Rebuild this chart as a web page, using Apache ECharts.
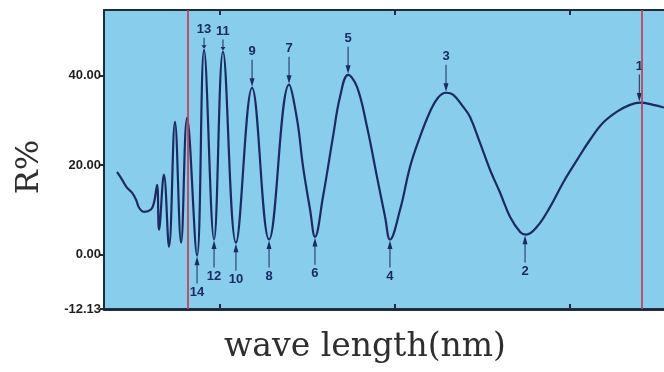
<!DOCTYPE html>
<html>
<head>
<meta charset="utf-8">
<script src="https://cdn.jsdelivr.net/npm/echarts@6/dist/echarts.min.js"></script>
<style>
html,body{margin:0;padding:0;background:#fff;}
#chart{width:664px;height:372px;}
</style>
</head>
<body>
<div id="chart"></div>
<script>
// wavelength (nm) samples
const wavelength = [441.4,444.3,447.1,450.0,452.3,454.0,456.8,460.8,462.5,464.3,465.4,468.2,471.1,474.5,478.0,481.4,487.1,491.1,496.8,501.9,509.3,518.5,528.2,539.6,544.2,547.6,551.6,554.4,559.0,564.7,568.7,573.3,578.4,584.1,589.8,594.4,597.2,603.0,608.7,614.4,620.1,624.6,629.2,633.2,638.9,642.9,648.6,654.3,660.0,665.7,671.5,674.9,681.2,688.6,696.0,704.0,711.4,718.8,726.8,734.2,740.0,747.4,753.6];
// reflectance R% samples
const reflectance = [18.5,16.8,15.0,13.9,12.3,10.5,9.6,10.1,11.6,15.6,5.6,17.9,1.8,29.7,2.7,30.6,-0.2,45.8,3.4,45.4,2.7,37.3,3.4,38.0,30.2,19.7,10.1,4.0,13.0,26.4,35.3,40.2,37.5,28.6,17.4,8.5,3.4,10.1,19.7,26.4,32.0,35.1,36.2,35.8,33.1,30.8,25.0,19.0,13.9,8.5,5.1,4.5,6.3,10.7,16.1,21.2,25.7,29.5,32.0,33.5,34.0,33.5,32.9];
// numbered extrema
const extremaNames = ['1','2','3','4','5','6','7','8','9','10','11','12','13','14'];
const extremaX = [739.5,674.3,629.2,597.2,573.3,554.4,539.6,528.2,518.5,509.3,501.9,496.8,491.1,487.1];
const extremaY = [34.0,4.5,36.2,3.4,40.2,4.0,38.0,3.4,37.3,2.7,45.4,3.4,45.8,-0.2];
// red vertical markers
const markerLines = [481.9, 740.9];
// axis ticks
const xTicks = [500, 600, 700];
const yTicks = [-12.13, 0, 20, 40];

const navy = '#1b2a63';
const axisColor = '#1e2d3d';
const downArrow = 'path://M4,0 L6,0 L6,15 L10,15 L5,22 L0,15 L4,15 Z';
const upArrow = 'path://M5,0 L10,7 L6,7 L6,22 L4,22 L4,7 L0,7 Z';

const points = wavelength.map((w, i) => [w, reflectance[i]]);
const marks = extremaNames.map((n, i) => {
  const isPeak = (i % 2 === 0);
  const shortArrow = (n === '11' || n === '13');
  const len = shortArrow ? 11 : 27;
  return {
    name: n,
    coord: [extremaX[i], extremaY[i]],
    symbol: isPeak ? downArrow : upArrow,
    symbolSize: [5, len],
    symbolOffset: [0, isPeak ? -len / 2 - 1 : len / 2 + 1],
    label: {
      show: true,
      formatter: n,
      position: isPeak ? 'top' : 'bottom',
      distance: 2,
      color: navy,
      fontSize: 13,
      fontWeight: 'bold',
      fontFamily: 'Liberation Sans, Arial, sans-serif'
    }
  };
});

const chart = echarts.init(document.getElementById('chart'), null, {renderer: 'canvas'});
function xAxisDef(pos, lineW) {
  return {
    type: 'value', min: 434, max: 753.6, position: pos,
    axisLine: {show: true, onZero: false, lineStyle: {color: axisColor, width: lineW}},
    axisLabel: {show: false},
    splitLine: {show: false},
    axisTick: {show: true, inside: true, length: 5, customValues: xTicks, lineStyle: {color: axisColor, width: 2}}
  };
}
chart.setOption({
  animation: false,
  backgroundColor: '#ffffff',
  grid: {left: 104, right: 0, top: 10, bottom: 63, show: true, backgroundColor: '#88cdec', borderWidth: 0},
  xAxis: [xAxisDef('bottom', 3), xAxisDef('top', 2)],
  yAxis: {
    type: 'value', min: -12.13, max: 54.7,
    axisLine: {show: true, lineStyle: {color: axisColor, width: 2}},
    splitLine: {show: false},
    axisTick: {show: true, length: 4, customValues: yTicks, lineStyle: {color: axisColor, width: 2}},
    axisLabel: {show: true, customValues: yTicks, margin: 3, color: '#1f1f1f', fontSize: 13, fontWeight: 'bold',
      fontFamily: 'Liberation Sans, Arial, sans-serif', formatter: v => v.toFixed(2)}
  },
  graphic: [
    {type: 'text', x: 365, y: 347, style: {text: 'wave length(nm)', font: '33px "DejaVu Serif", serif', fill: '#2e2e2e', textAlign: 'center', textVerticalAlign: 'middle'}},
    {type: 'text', x: 30, y: 167, rotation: Math.PI / 2, style: {text: 'R%', font: '32px "DejaVu Serif", serif', fill: '#2e2e2e', textAlign: 'center', textVerticalAlign: 'middle'}}
  ],
  series: [
    {
      type: 'line', data: points, showSymbol: false, smooth: 0.4, z: 3,
      lineStyle: {color: navy, width: 2.2},
      markPoint: {data: marks, itemStyle: {color: navy}, z: 4}
    },
    {
      type: 'line', data: [], z: 5,
      markLine: {
        silent: true, symbol: ['none', 'none'], label: {show: false},
        lineStyle: {color: '#c23c55', width: 2, type: 'solid', opacity: 0.85},
        data: markerLines.map(v => ({xAxis: v}))
      }
    }
  ]
});
</script>
</body>
</html>
